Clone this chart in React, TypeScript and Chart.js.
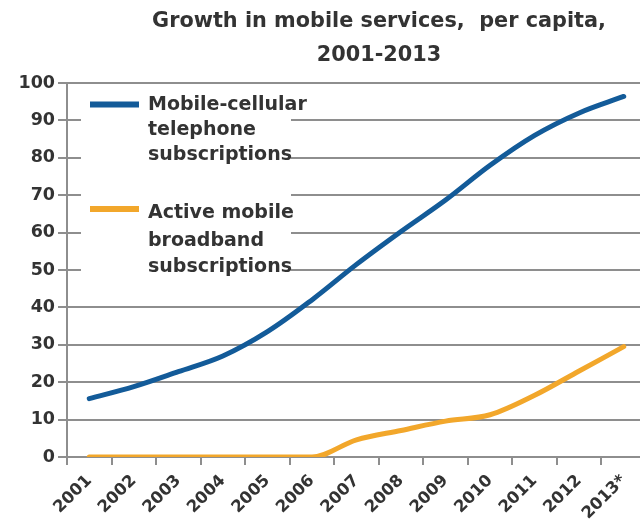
import React, { useEffect, useRef } from "react";
import { Chart, registerables } from "chart.js";

Chart.register(...registerables);

const categories = ["2001", "2002", "2003", "2004", "2005", "2006", "2007", "2008", "2009", "2010", "2011", "2012", "2013*"];
const cellular = [15.6, 18.8, 22.8, 27.0, 33.5, 42.0, 51.5, 60.3, 68.7, 78.0, 86.0, 92.0, 96.4];
const broadband = [0, 0, 0, 0, 0, 0, 4.6, 7.1, 9.6, 11.3, 16.5, 23.0, 29.5];
const titleLines = ["Growth in mobile services,  per capita,", "2001-2013"];
const legendCellular = ["Mobile-cellular", "telephone", "subscriptions"];
const legendBroadband = ["Active mobile", "broadband", "subscriptions"];

const BLUE = "#135B99";
const ORANGE = "#F2A72B";
const GRID = "#8E8E8E";
const TEXT = "#333333";
const FONT = "'DejaVu Sans', sans-serif";

const decorPlugin = {
  id: "decor",
  afterDraw(chart: any) {
    const ctx = chart.ctx;
    ctx.save();
    // title
    ctx.fillStyle = TEXT;
    ctx.font = `bold 20.8px ${FONT}`;
    ctx.textAlign = "center";
    ctx.textBaseline = "alphabetic";
    ctx.fillText(titleLines[0], 379, 27);
    ctx.fillText(titleLines[1], 379, 61);
    // legend box
    ctx.fillStyle = "#ffffff";
    ctx.fillRect(81, 88, 210, 191);
    ctx.lineCap = "butt";
    ctx.lineWidth = 6;
    ctx.strokeStyle = BLUE;
    ctx.beginPath();
    ctx.moveTo(90, 104.5);
    ctx.lineTo(139, 104.5);
    ctx.stroke();
    ctx.strokeStyle = ORANGE;
    ctx.beginPath();
    ctx.moveTo(90, 209);
    ctx.lineTo(139, 209);
    ctx.stroke();
    ctx.fillStyle = TEXT;
    ctx.font = `bold 19px ${FONT}`;
    ctx.textAlign = "left";
    const y1 = [110, 135, 160];
    legendCellular.forEach((t, i) => ctx.fillText(t, 148, y1[i]));
    const y2 = [218, 246, 272];
    legendBroadband.forEach((t, i) => ctx.fillText(t, 148, y2[i]));
    ctx.restore();
  },
};

export default function App() {
  const ref = useRef<HTMLCanvasElement>(null);
  useEffect(() => {
    if (!ref.current) return;
    const chart = new Chart(ref.current, {
      type: "line",
      data: {
        labels: categories,
        datasets: [
          {
            label: "Mobile-cellular telephone subscriptions",
            data: cellular,
            borderColor: BLUE,
            backgroundColor: BLUE,
            borderWidth: 5,
            pointRadius: 0,
            tension: 0.35,
            borderCapStyle: "round",
          },
          {
            label: "Active mobile broadband subscriptions",
            data: broadband,
            borderColor: ORANGE,
            backgroundColor: ORANGE,
            borderWidth: 5,
            pointRadius: 0,
            cubicInterpolationMode: "monotone",
            borderCapStyle: "round",
          },
        ],
      },
      options: {
        responsive: false,
        animation: false,
        layout: { padding: { top: 83, left: 0, right: 14, bottom: 0 } },
        plugins: { legend: { display: false }, title: { display: false }, tooltip: { enabled: false } },
        scales: {
          x: {
            offset: true,
            grid: { offset: true, drawOnChartArea: false, drawTicks: true, tickLength: 8, color: GRID, lineWidth: 2 },
            border: { display: true, color: GRID, width: 2 },
            ticks: { maxRotation: 45, minRotation: 45, autoSkip: false, color: TEXT, font: { family: FONT, size: 16.5, weight: "bold" }, padding: 6 },
            afterFit: (scale: any) => { scale.height = 65; },
          },
          y: {
            min: 0,
            max: 100,
            ticks: { stepSize: 10, color: TEXT, font: { family: FONT, size: 17.5, weight: "bold" }, padding: 3 },
            grid: { color: GRID, lineWidth: 2, tickLength: 9 },
            border: { display: true, color: GRID, width: 2 },
            afterFit: (scale: any) => { scale.width = 67; },
          },
        },
      },
      plugins: [decorPlugin],
    });
    return () => chart.destroy();
  }, []);
  return (
    <div style={{ position: "fixed", left: 0, top: 0, width: 660, height: 522, background: "#fff" }}>
      <canvas ref={ref} width={660} height={522} />
    </div>
  );
}
